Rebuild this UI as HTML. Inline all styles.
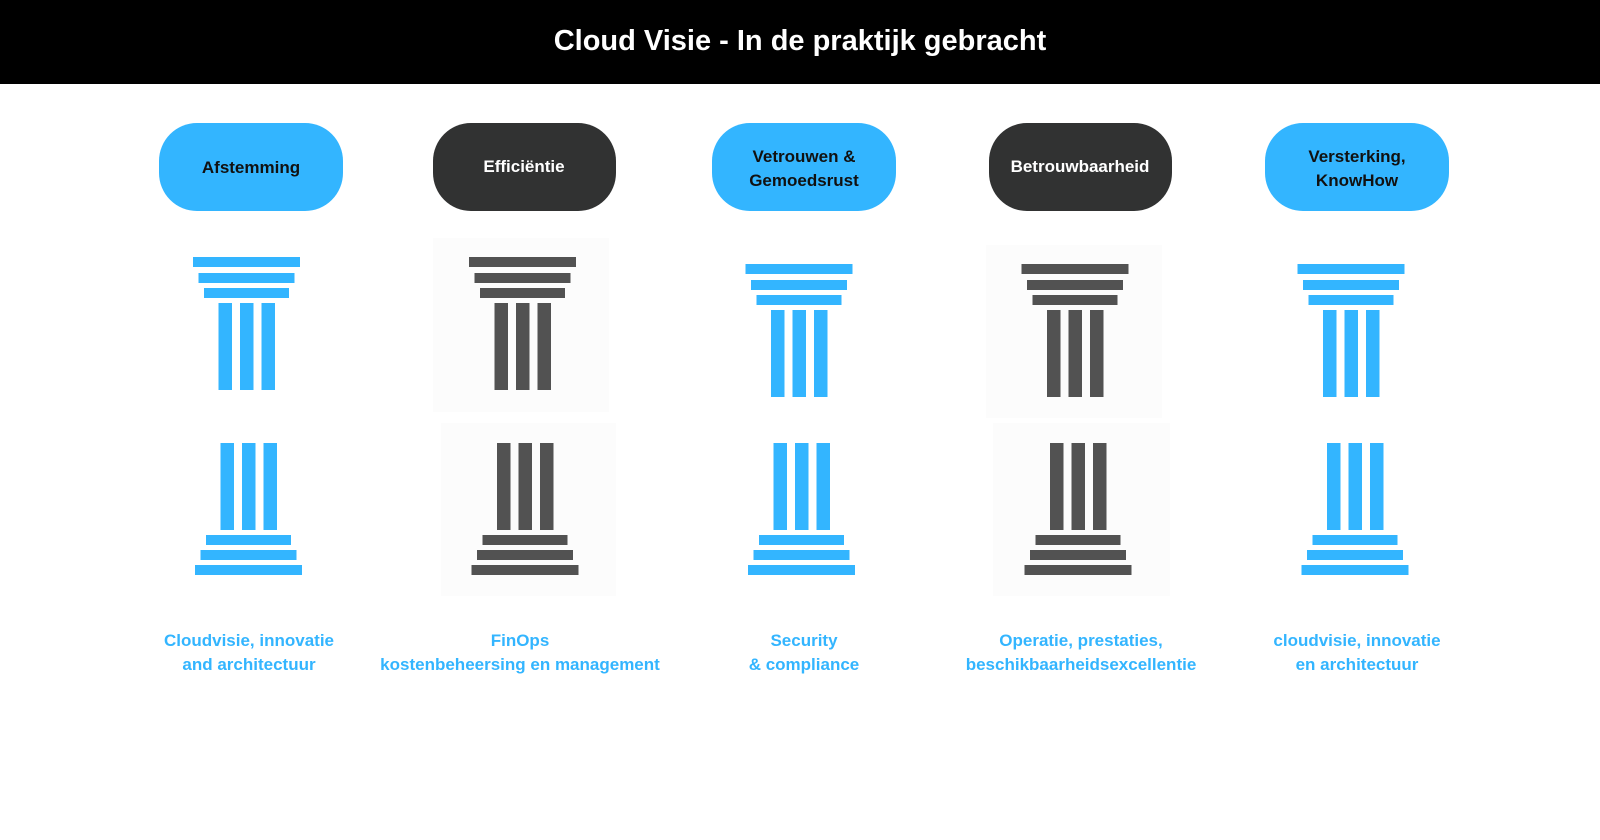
<!DOCTYPE html>
<html><head><meta charset="utf-8"><style>
html,body{margin:0;padding:0;width:1600px;height:840px;background:#fff;overflow:hidden}
svg{display:block}
</style></head><body>
<svg width="1600" height="840" viewBox="0 0 1600 840" xmlns="http://www.w3.org/2000/svg">
<rect x="0" y="0" width="1600" height="84" fill="#000"/>
<text x="800" y="50" text-anchor="middle" font-family="Liberation Sans, sans-serif" font-weight="bold" font-size="29" fill="#fff">Cloud Visie - In de praktijk gebracht</text>

<rect x="433" y="238" width="176" height="174" fill="#fcfcfc"/>
<rect x="441" y="423" width="175" height="173" fill="#fcfcfc"/>
<rect x="986" y="245" width="176" height="173" fill="#fcfcfc"/>
<rect x="993" y="423" width="177" height="173" fill="#fcfcfc"/>

<g font-family="Liberation Sans, sans-serif" font-weight="bold" font-size="17" text-anchor="middle">
<rect x="159" y="123" width="184" height="88" rx="38" fill="#33b5ff"/>
<text x="251" y="173" fill="#111">Afstemming</text>
<rect x="433" y="123" width="183" height="88" rx="38" fill="#313232"/>
<text x="524" y="172" fill="#fff">Efficiëntie</text>
<rect x="712" y="123" width="184" height="88" rx="38" fill="#33b5ff"/>
<text x="804" y="162" fill="#111">Vetrouwen &amp;</text>
<text x="804" y="186" fill="#111">Gemoedsrust</text>
<rect x="989" y="123" width="183" height="88" rx="38" fill="#313232"/>
<text x="1080" y="172" fill="#fff">Betrouwbaarheid</text>
<rect x="1265" y="123" width="184" height="88" rx="38" fill="#33b5ff"/>
<text x="1357" y="162" fill="#111">Versterking,</text>
<text x="1357" y="186" fill="#111">KnowHow</text>
</g>

<g fill="#33b5ff" transform="translate(246.5,257)">
<rect x="-53.5" y="0" width="107" height="10"/><rect x="-48" y="16" width="96" height="10"/><rect x="-42.5" y="31" width="85" height="10"/>
<rect x="-28" y="46" width="13.5" height="87"/><rect x="-6.5" y="46" width="13.5" height="87"/><rect x="15" y="46" width="13.5" height="87"/>
</g>
<g fill="#525252" transform="translate(522.5,257)">
<rect x="-53.5" y="0" width="107" height="10"/><rect x="-48" y="16" width="96" height="10"/><rect x="-42.5" y="31" width="85" height="10"/>
<rect x="-28" y="46" width="13.5" height="87"/><rect x="-6.5" y="46" width="13.5" height="87"/><rect x="15" y="46" width="13.5" height="87"/>
</g>
<g fill="#33b5ff" transform="translate(799,264)">
<rect x="-53.5" y="0" width="107" height="10"/><rect x="-48" y="16" width="96" height="10"/><rect x="-42.5" y="31" width="85" height="10"/>
<rect x="-28" y="46" width="13.5" height="87"/><rect x="-6.5" y="46" width="13.5" height="87"/><rect x="15" y="46" width="13.5" height="87"/>
</g>
<g fill="#525252" transform="translate(1075,264)">
<rect x="-53.5" y="0" width="107" height="10"/><rect x="-48" y="16" width="96" height="10"/><rect x="-42.5" y="31" width="85" height="10"/>
<rect x="-28" y="46" width="13.5" height="87"/><rect x="-6.5" y="46" width="13.5" height="87"/><rect x="15" y="46" width="13.5" height="87"/>
</g>
<g fill="#33b5ff" transform="translate(1351,264)">
<rect x="-53.5" y="0" width="107" height="10"/><rect x="-48" y="16" width="96" height="10"/><rect x="-42.5" y="31" width="85" height="10"/>
<rect x="-28" y="46" width="13.5" height="87"/><rect x="-6.5" y="46" width="13.5" height="87"/><rect x="15" y="46" width="13.5" height="87"/>
</g>

<g fill="#33b5ff" transform="translate(248.5,443)">
<rect x="-28" y="0" width="13.5" height="87"/><rect x="-6.5" y="0" width="13.5" height="87"/><rect x="15" y="0" width="13.5" height="87"/>
<rect x="-42.5" y="92" width="85" height="10"/><rect x="-48" y="107" width="96" height="10"/><rect x="-53.5" y="122" width="107" height="10"/>
</g>
<g fill="#525252" transform="translate(525,443)">
<rect x="-28" y="0" width="13.5" height="87"/><rect x="-6.5" y="0" width="13.5" height="87"/><rect x="15" y="0" width="13.5" height="87"/>
<rect x="-42.5" y="92" width="85" height="10"/><rect x="-48" y="107" width="96" height="10"/><rect x="-53.5" y="122" width="107" height="10"/>
</g>
<g fill="#33b5ff" transform="translate(801.5,443)">
<rect x="-28" y="0" width="13.5" height="87"/><rect x="-6.5" y="0" width="13.5" height="87"/><rect x="15" y="0" width="13.5" height="87"/>
<rect x="-42.5" y="92" width="85" height="10"/><rect x="-48" y="107" width="96" height="10"/><rect x="-53.5" y="122" width="107" height="10"/>
</g>
<g fill="#525252" transform="translate(1078,443)">
<rect x="-28" y="0" width="13.5" height="87"/><rect x="-6.5" y="0" width="13.5" height="87"/><rect x="15" y="0" width="13.5" height="87"/>
<rect x="-42.5" y="92" width="85" height="10"/><rect x="-48" y="107" width="96" height="10"/><rect x="-53.5" y="122" width="107" height="10"/>
</g>
<g fill="#33b5ff" transform="translate(1355,443)">
<rect x="-28" y="0" width="13.5" height="87"/><rect x="-6.5" y="0" width="13.5" height="87"/><rect x="15" y="0" width="13.5" height="87"/>
<rect x="-42.5" y="92" width="85" height="10"/><rect x="-48" y="107" width="96" height="10"/><rect x="-53.5" y="122" width="107" height="10"/>
</g>

<g font-family="Liberation Sans, sans-serif" font-weight="bold" font-size="17" text-anchor="middle" fill="#33b5ff">
<text x="249" y="646">Cloudvisie, innovatie</text>
<text x="249" y="670">and architectuur</text>
<text x="520" y="646">FinOps</text>
<text x="520" y="670">kostenbeheersing en management</text>
<text x="804" y="646">Security</text>
<text x="804" y="670">&amp; compliance</text>
<text x="1081" y="646">Operatie, prestaties,</text>
<text x="1081" y="670">beschikbaarheidsexcellentie</text>
<text x="1357" y="646">cloudvisie, innovatie</text>
<text x="1357" y="670">en architectuur</text>
</g>
</svg>
</body></html>
